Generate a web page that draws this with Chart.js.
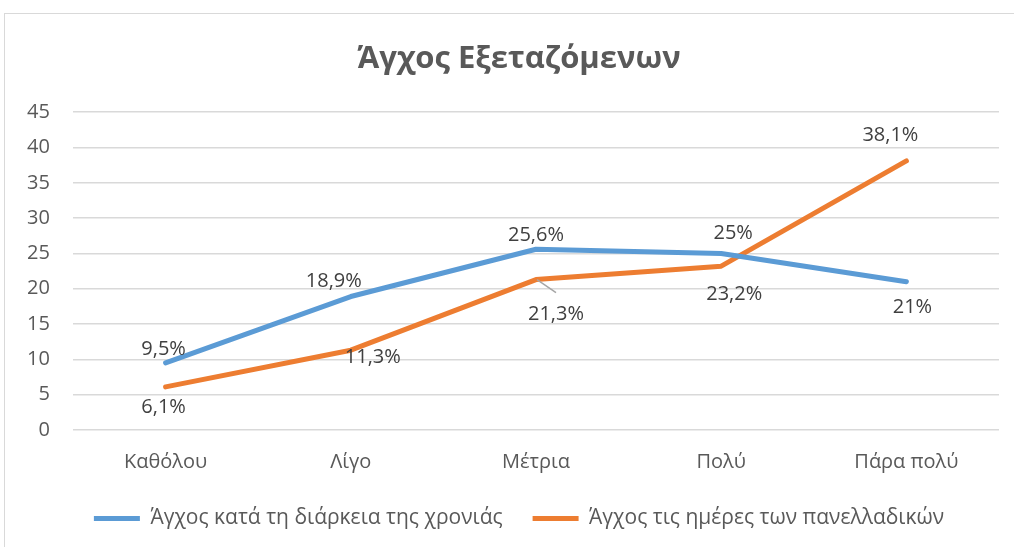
<!DOCTYPE html>
<html>
<head>
<meta charset="utf-8">
<script src="https://cdn.jsdelivr.net/npm/chart.js@4/dist/chart.umd.min.js"></script>
<style>
  body { margin: 0; background: #fff; }
  #wrap { position: relative; width: 1014px; height: 547px; }
  #frame { position: absolute; left: 4px; top: 13px; width: 1020px; height: 560px; border: 1px solid #d9d9d9; box-sizing: border-box; }
  canvas { position: absolute; left: 0; top: 0; }
</style>
</head>
<body>
<div id="wrap">
  <div id="frame"></div>
  <canvas id="chart" width="1014" height="547"></canvas>
</div>
<script>
const categories = ['Καθόλου', 'Λίγο', 'Μέτρια', 'Πολύ', 'Πάρα πολύ'];
const yearValues = [9.5, 18.9, 25.6, 25, 21];
const examValues = [6.1, 11.3, 21.3, 23.2, 38.1];
const yearLabels = ['9,5%', '18,9%', '25,6%', '25%', '21%'];
const examLabels = ['6,1%', '11,3%', '21,3%', '23,2%', '38,1%'];

// where each value label sits relative to its point (Excel placed them by hand)
const labelOffsets = [
    [[-2, -14], [-17, -15], [0, -14], [12, -20], [6, 26]],
    [[-2, 20], [22, 7], [20, 35], [13, 28], [-16, -26]]
];

const valueLabels = {
    id: 'valueLabels',
    afterDatasetsDraw(chart) {
        const ctx = chart.ctx;
        const texts = [yearLabels, examLabels];
        ctx.save();
        ctx.font = '20px "Open Sans"';
        ctx.fillStyle = '#404040';
        ctx.textAlign = 'center';
        ctx.textBaseline = 'middle';
        chart.data.datasets.forEach((ds, i) => {
            chart.getDatasetMeta(i).data.forEach((pt, j) => {
                const [dx, dy] = labelOffsets[i][j];
                // leader line for the label pulled far from its point
                if (i === 1 && j === 2) {
                    ctx.strokeStyle = '#a6a6a6';
                    ctx.lineWidth = 1.5;
                    ctx.beginPath();
                    ctx.moveTo(pt.x + 1, pt.y);
                    ctx.lineTo(pt.x + dx, pt.y + dy - 22);
                    ctx.stroke();
                }
                ctx.fillText(texts[i][j], pt.x + dx, pt.y + dy);
            });
        });
        ctx.restore();
    }
};

new Chart(document.getElementById('chart'), {
    type: 'line',
    data: {
        labels: categories,
        datasets: [
            {
                label: 'Άγχος κατά τη διάρκεια της χρονιάς',
                data: yearValues,
                borderColor: '#5b9bd5',
                backgroundColor: '#5b9bd5',
                borderWidth: 5,
                borderCapStyle: 'round',
                borderJoinStyle: 'round',
                pointRadius: 0,
                pointStyle: 'line',
                tension: 0
            },
            {
                label: 'Άγχος τις ημέρες των πανελλαδικών',
                data: examValues,
                borderColor: '#ed7d31',
                backgroundColor: '#ed7d31',
                borderWidth: 5,
                borderCapStyle: 'round',
                borderJoinStyle: 'round',
                pointRadius: 0,
                pointStyle: 'line',
                tension: 0
            }
        ]
    },
    options: {
        responsive: false,
        animation: false,
        // left padding keeps title and legend centred like the original frame
        layout: { padding: { left: 39, right: 15, top: 0, bottom: 8 } },
        plugins: {
            title: {
                display: true,
                text: 'Άγχος Εξεταζόμενων',
                color: '#595959',
                font: { family: 'Open Sans', size: 31, weight: 'bold' },
                padding: { top: 41, bottom: 34 }
            },
            legend: {
                position: 'bottom',
                labels: {
                    usePointStyle: true,
                    pointStyleWidth: 46,
                    color: '#595959',
                    font: { family: 'Open Sans', size: 21 },
                    padding: 30
                }
            },
            tooltip: { enabled: false }
        },
        scales: {
            x: {
                offset: true,
                grid: { display: false, drawTicks: false },
                border: { display: false },
                ticks: { color: '#595959', font: { family: 'Open Sans', size: 20 }, padding: 20 },
                afterFit(scale) { scale.height = 48; }
            },
            y: {
                min: 0,
                max: 45,
                grid: { color: '#d9d9d9', lineWidth: 1.5, drawTicks: false },
                border: { display: false },
                // mirrored so the labels are not clipped to the narrow axis box
                ticks: { stepSize: 5, mirror: true, crossAlign: 'far', color: '#595959', font: { family: 'Open Sans', size: 20 }, padding: -46 },
                afterFit(scale) { scale.width = 34; }
            }
        }
    },
    plugins: [valueLabels]
});
</script>
</body>
</html>
